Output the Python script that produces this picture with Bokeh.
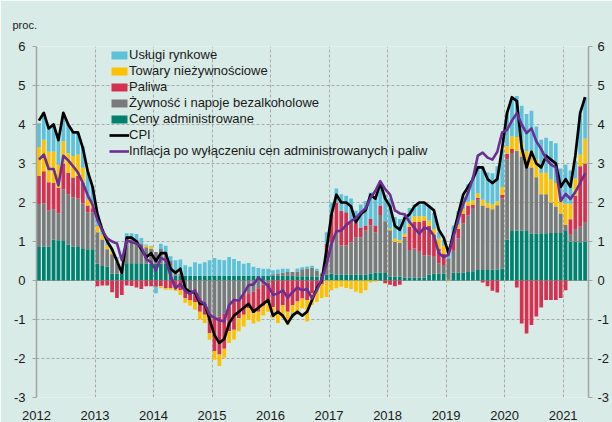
import numpy as np
from bokeh.plotting import figure
from bokeh.models import Legend, LegendItem, LinearAxis, FixedTicker, Range1d, Span
from bokeh.embed import file_html
from bokeh.resources import INLINE

start_year = 2012
years = list(range(2012, 2022))
y_ticks = list(range(-3, 7))

cpi = [4.1, 4.3, 3.9, 4.0, 3.6, 4.3, 4.0, 3.8, 3.8, 3.4, 2.8, 2.4,
       1.7, 1.3, 1.0, 0.8, 0.5, 0.2, 1.1, 1.1, 1.0, 0.8, 0.6, 0.7,
       0.5, 0.7, 0.7, 0.3, 0.2, 0.3, -0.2, -0.3, -0.3, -0.6, -0.6, -1.0,
       -1.4, -1.6, -1.5, -1.1, -0.9, -0.8, -0.7, -0.6, -0.8, -0.7, -0.6, -0.5,
       -0.9, -0.8, -0.9, -1.1, -0.9, -0.8, -0.9, -0.8, -0.5, -0.2, 0.0, 0.8,
       1.7, 2.2, 2.0, 2.0, 1.9, 1.5, 1.7, 1.8, 2.2, 2.1, 2.5, 2.1,
       1.9, 1.4, 1.3, 1.6, 1.7, 1.9, 2.0, 2.0, 1.9, 1.8, 1.3, 1.1,
       0.7, 1.2, 1.7, 2.2, 2.4, 2.6, 2.9, 2.9, 2.6, 2.5, 2.6, 3.4,
       4.3, 4.7, 4.6, 3.4, 2.9, 3.3, 3.0, 2.9, 3.2, 3.1, 3.0, 2.4,
       2.6, 2.4, 3.2, 4.3, 4.7]

core = [3.10, 3.23, 2.86, 2.86, 2.44, 3.20, 3.08, 2.93, 2.77, 2.50, 2.19, 1.94,
        1.55, 1.28, 1.08, 1.00, 0.95, 0.52, 1.03, 0.98, 0.95, 0.86, 0.55, 0.47,
        0.26, 0.58, 0.52, 0.12, -0.20, -0.09, -0.27, -0.34, -0.25, -0.52, -0.60, -0.88,
        -0.96, -1.02, -1.05, -0.63, -0.50, -0.52, -0.33, -0.12, -0.10, 0.07, -0.03, -0.14,
        -0.37, -0.33, -0.25, -0.44, -0.30, -0.18, -0.25, -0.22, -0.46, -0.25, 0.03, 0.42,
        0.94, 1.26, 1.28, 1.42, 1.52, 1.60, 1.74, 1.85, 2.12, 2.30, 2.55, 2.34,
        2.20, 1.80, 1.72, 1.70, 1.50, 1.35, 1.20, 1.35, 1.32, 1.15, 0.70, 0.60,
        0.66, 1.12, 1.56, 1.95, 2.25, 2.62, 3.20, 3.28, 3.15, 3.10, 3.30, 3.80,
        3.86, 4.10, 4.29, 4.00, 3.78, 3.90, 3.57, 3.37, 3.12, 2.97, 2.90, 2.04,
        2.22, 2.09, 2.27, 2.50, 2.75]

admin = [0.86, 0.87, 0.87, 1.05, 1.03, 1.03, 0.92, 0.87, 0.86, 0.83, 0.80, 0.80,
         0.43, 0.37, 0.35, 0.17, 0.17, 0.17, 0.44, 0.44, 0.44, 0.44, 0.43, 0.43,
         0.43, 0.43, 0.43, 0.36, 0.12, 0.12, 0.12, 0.12, 0.12, 0.12, 0.12, 0.12,
         0.12, 0.12, 0.12, 0.12, 0.12, 0.12, 0.12, 0.12, 0.12, 0.12, 0.12, 0.12,
         0.12, 0.12, 0.12, 0.12, 0.12, 0.11, 0.11, 0.11, 0.11, 0.10, 0.10, 0.15,
         0.18, 0.15, 0.15, 0.15, 0.15, 0.15, 0.15, 0.15, 0.18, 0.20, 0.20, 0.19,
         0.10, 0.10, 0.10, 0.08, 0.08, 0.08, 0.08, 0.08, 0.15, 0.17, 0.17, 0.17,
         0.02, 0.20, 0.20, 0.20, 0.22, 0.24, 0.27, 0.27, 0.27, 0.28, 0.28, 0.30,
         1.05, 1.27, 1.28, 1.28, 1.27, 1.20, 1.20, 1.21, 1.21, 1.22, 1.22, 1.22,
         1.27, 1.00, 1.00, 0.98, 1.00]

food = [1.10, 1.11, 0.93, 0.78, 0.69, 1.31, 1.29, 1.26, 1.24, 1.15, 0.95, 0.95,
        0.81, 0.68, 0.45, 0.50, 0.32, 0.12, 0.65, 0.62, 0.60, 0.50, 0.42, 0.38,
        0.30, 0.38, 0.30, 0.14, 0.14, 0.06, -0.20, -0.30, -0.25, -0.45, -0.63, -0.84,
        -0.97, -0.92, -0.85, -0.67, -0.54, -0.46, -0.37, -0.33, -0.29, -0.20, -0.10, -0.05,
        0.04, 0.06, 0.08, 0.10, 0.10, 0.12, 0.18, 0.20, 0.22, 0.15, 0.08, 0.41,
        0.80, 1.09, 0.75, 0.75, 0.83, 0.96, 0.96, 1.13, 1.23, 1.04, 1.48, 1.33,
        1.19, 0.89, 0.87, 1.00, 0.70, 0.74, 0.66, 0.57, 0.49, 0.44, 0.27, 0.23,
        0.55, 0.58, 0.88, 1.26, 1.45, 1.60, 1.80, 1.65, 1.60, 1.55, 1.65, 1.80,
        2.05, 2.00, 2.05, 1.90, 1.75, 1.70, 1.45, 1.00, 1.00, 0.78, 0.68, 0.50,
        0.15, 0.17, 0.30, 0.40, 0.50]

fuel = [0.72, 0.82, 0.72, 0.67, 0.66, 0.66, 0.55, 0.51, 0.58, 0.52, 0.17, 0.10,
        -0.15, -0.13, -0.13, -0.30, -0.45, -0.37, -0.13, -0.14, -0.18, -0.22, -0.15, -0.15,
        -0.16, -0.15, -0.20, -0.20, -0.20, -0.25, -0.25, -0.20, -0.30, -0.35, -0.25, -0.51,
        -0.84, -0.98, -0.90, -0.63, -0.72, -0.51, -0.51, -0.38, -0.55, -0.60, -0.55, -0.50,
        -0.68, -0.80, -0.63, -0.80, -0.63, -0.54, -0.46, -0.50, -0.33, -0.20, -0.10, 0.38,
        0.72, 0.76, 0.89, 0.85, 0.55, 0.38, 0.25, 0.13, 0.17, 0.17, 0.24, -0.07,
        -0.11, -0.15, -0.11, 0.04, 0.59, 0.68, 0.76, 0.89, 0.76, 0.57, 0.38, 0.29,
        0.00, 0.38, 0.25, 0.25, 0.25, 0.10, 0.05, -0.05, -0.15, -0.26, -0.31, 0.10,
        0.15, 0.10, -0.18, -1.10, -1.36, -1.14, -0.92, -0.69, -0.50, -0.50, -0.50, -0.45,
        -0.25, 0.40, 0.87, 1.55, 1.50]

goods = [0.74, 0.81, 0.79, 0.81, 0.59, 0.57, 0.51, 0.55, 0.55, 0.39, 0.16, 0.15,
         0.16, 0.12, 0.10, 0.08, 0.06, 0.00, 0.00, 0.00, 0.00, 0.00, 0.05, 0.06,
         0.00, -0.05, -0.04, -0.04, -0.07, -0.12, -0.12, -0.15, -0.20, -0.20, -0.21, -0.17,
         -0.22, -0.29, -0.23, -0.30, -0.25, -0.33, -0.30, -0.30, -0.26, -0.25, -0.25, -0.25,
         -0.29, -0.29, -0.34, -0.34, -0.20, -0.34, -0.25, -0.55, -0.30, -0.35, -0.35, -0.42,
         -0.25, -0.20, -0.16, -0.19, -0.22, -0.29, -0.33, -0.25, -0.05, -0.03, 0.00, -0.02,
         0.04, 0.08, 0.06, 0.08, 0.09, 0.15, 0.15, 0.11, 0.14, 0.14, 0.26, 0.20,
         -0.02, 0.00, 0.10, 0.13, 0.10, 0.12, 0.12, 0.15, 0.12, 0.12, 0.10, 0.20,
         0.20, 0.33, 0.35, 0.35, 0.30, 0.40, 0.45, 0.55, 0.55, 0.60, 0.60, 0.40,
         0.55, 0.40, 0.45, 0.30, 0.64]

services = [0.61, 0.59, 0.64, 0.72, 0.72, 0.63, 0.72, 0.63, 0.55, 0.55, 0.72, 0.42,
            0.30, 0.15, 0.08, 0.05, 0.05, 0.05, 0.12, 0.15, 0.15, 0.15, 0.02, 0.02,
            -0.17, 0.13, 0.16, 0.12, 0.26, 0.36, 0.27, 0.23, 0.35, 0.31, 0.35, 0.40,
            0.46, 0.41, 0.40, 0.48, 0.43, 0.38, 0.31, 0.33, 0.23, 0.20, 0.18, 0.18,
            0.10, 0.10, 0.10, 0.08, -0.12, 0.08, 0.05, 0.05, 0.05, 0.05, 0.02, 0.30,
            0.30, 0.36, 0.42, 0.42, 0.57, 0.30, 0.59, 0.63, 0.67, 0.76, 0.59, 0.68,
            0.77, 0.56, 0.55, 0.47, 0.40, 0.30, 0.30, 0.35, 0.34, 0.41, 0.17, 0.14,
            0.27, 0.25, 0.35, 0.30, 0.45, 0.60, 0.70, 0.85, 0.78, 0.80, 0.90, 0.95,
            0.85, 1.00, 1.05, 0.95, 0.95, 1.05, 0.85, 0.85, 0.90, 0.98, 1.02, 0.75,
            1.00, 0.85, 0.45, 1.00, 1.05]

labels = {
    "services": "Usługi rynkowe",
    "goods": "Towary nieżywnościowe",
    "fuel": "Paliwa",
    "food": "Żywność i napoje bezalkoholowe",
    "admin": "Ceny administrowane",
    "cpi": "CPI",
    "core": "Inflacja po wyłączeniu cen administrowanych i paliw",
}

BG = "#d9ebe7"
GRID = "#a9a9a9"
AXIS = "#a3a3a3"
FONT = "Liberation Sans"
colors = {"admin": "#00806e", "food": "#7a7a7a", "fuel": "#d5304f",
          "goods": "#ffc000", "services": "#5dc1da"}

n = len(cpi)
months = [start_year + (i + 0.5) / 12 for i in range(n)]
x_end = start_year + 113.2 / 12

p = figure(width=612, height=422, output_backend="svg", toolbar_location=None, tools="",
           x_range=Range1d(start_year, x_end), y_range=Range1d(-3, 6),
           background_fill_color=BG, border_fill_color=BG, outline_line_color=None,
           min_border_left=36, min_border_right=21, min_border_top=44, min_border_bottom=23,
           title="proc.")
p.title.text_font = FONT
p.title.text_font_size = "11px"
p.title.text_font_style = "normal"
p.title.text_color = "#1a1a1a"
p.title.align = "left"
p.title.offset = -24
p.title.standoff = 32

# zero line
p.add_layout(Span(location=0, dimension="width", line_color="#a8a8a8", line_width=1, level="underlay"))

comps = [("admin", admin), ("food", food), ("fuel", fuel), ("goods", goods), ("services", services)]
pos = np.zeros(n)
neg = np.zeros(n)
renderers = {}
for key, vals in comps:
    v = np.array(vals, dtype=float)
    bottom = np.where(v >= 0, pos, neg)
    top = bottom + v
    pos = np.where(v >= 0, top, pos)
    neg = np.where(v < 0, top, neg)
    renderers[key] = p.vbar(x=months, bottom=bottom, top=top, width=0.76 / 12,
                            fill_color=colors[key], line_color=None)

renderers["cpi"] = p.line(months, cpi, line_color="#000000", line_width=2.7, line_join="round")
renderers["core"] = p.line(months, core, line_color="#6a2f93", line_width=2.6, line_join="round")

legend = Legend(items=[LegendItem(label=labels[k], renderers=[renderers[k]])
                       for k in ["services", "goods", "fuel", "food", "admin", "cpi", "core"]],
                location=(73, 239), orientation="vertical",
                label_text_font=FONT, label_text_font_size="13px", label_text_color="#1a1a1a",
                glyph_width=20, glyph_height=10, label_height=10, label_standoff=0,
                spacing=1, padding=0, margin=0,
                background_fill_alpha=0, border_line_alpha=0)
p.add_layout(legend)

# axes
p.xaxis.ticker = FixedTicker(ticks=years)
p.xaxis.major_label_overrides = {y: str(y) for y in years}
p.xaxis.axis_line_color = None
p.xaxis.major_tick_line_color = None
p.xaxis.minor_tick_line_color = None
p.xaxis.major_label_standoff = 7
p.xaxis.major_label_text_font = FONT
p.xaxis.major_label_text_font_size = "13px"
p.xaxis.major_label_text_color = "#1a1a1a"

p.yaxis.ticker = FixedTicker(ticks=y_ticks)
p.yaxis.major_label_overrides = {t: str(t) for t in y_ticks}
p.yaxis.axis_line_color = AXIS
p.yaxis.axis_line_width = 1.5
p.yaxis.major_tick_line_color = AXIS
p.yaxis.major_tick_in = 0
p.yaxis.major_tick_out = 4
p.yaxis.minor_tick_line_color = None
p.yaxis.major_label_standoff = 7
p.yaxis.major_label_text_font = FONT
p.yaxis.major_label_text_font_size = "13px"
p.yaxis.major_label_text_color = "#1a1a1a"

right = LinearAxis(ticker=FixedTicker(ticks=y_ticks),
                   major_label_overrides={t: str(t) for t in y_ticks},
                   axis_line_color=AXIS, axis_line_width=1.5,
                   major_tick_line_color=AXIS, major_tick_in=0, major_tick_out=4,
                   minor_tick_line_color=None, major_label_standoff=5,
                   major_label_text_font=FONT, major_label_text_font_size="13px",
                   major_label_text_color="#1a1a1a")
p.add_layout(right, "right")

p.xgrid.ticker = FixedTicker(ticks=years)
p.ygrid.ticker = FixedTicker(ticks=y_ticks)
for g in (p.xgrid, p.ygrid):
    g.grid_line_color = GRID
    g.grid_line_dash = "3 2"
    g.grid_line_width = 1

open("out.html", "w").write(file_html(p, INLINE))
